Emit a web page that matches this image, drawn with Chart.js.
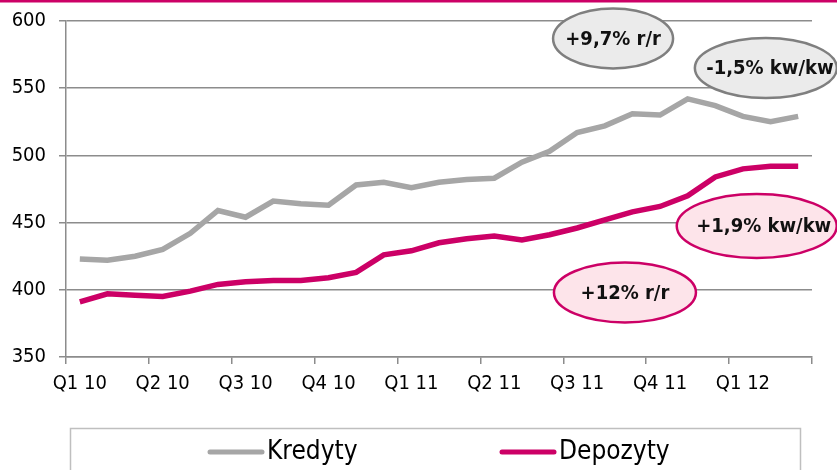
<!DOCTYPE html>
<html>
<head>
<meta charset="utf-8">
<script src="https://cdn.jsdelivr.net/npm/chart.js@4"></script>
<style>
  body { margin: 0; background: #fff; }
  #wrap { width: 837px; height: 470px; }
</style>
</head>
<body>
<div id="wrap"><canvas id="chart" width="837" height="470"></canvas></div>
<script>
// miesiące od stycznia 2010 do marca 2012, podpis co kwartał
const labels = [
  'Q1 10', '', '', 'Q2 10', '', '', 'Q3 10', '', '', 'Q4 10', '', '',
  'Q1 11', '', '', 'Q2 11', '', '', 'Q3 11', '', '', 'Q4 11', '', '',
  'Q1 12', '', ''
];
const kredyty = [
  423, 422, 425, 430, 442, 459, 454, 466, 464, 463, 478, 480,
  476, 480, 482, 483, 495, 503, 517, 522, 531, 530, 542, 537,
  529, 525, 529
];
const depozyty = [
  391, 397, 396, 395, 399, 404, 406, 407, 407, 409, 413, 426,
  429, 435, 438, 440, 437, 441, 446, 452, 458, 462, 470, 484,
  490, 492, 492
];
const yTicks = [350, 400, 450, 500, 550, 600];

// dymki z komentarzem: [indeks miesiąca, wartość, tekst]
const callouts = [
  { at: [19.3, 587], text: '+9,7% r/r', rx: 60, ry: 30, kind: 'gray', dx: 0 },
  { at: [24.83, 565], text: '-1,5% kw/kw', rx: 71, ry: 30, kind: 'gray', dx: 4 },
  { at: [24.5, 447.5], text: '+1,9% kw/kw', rx: 80, ry: 32, kind: 'pink', dx: 7 },
  { at: [19.73, 398], text: '+12% r/r', rx: 71, ry: 30, kind: 'pink', dx: 0 }
];

const GRAY = '#A6A6A6';
const PINK = '#CC0066';
const AXIS = '#8C8C8C';
const FONT = '"DejaVu Sans Condensed", "DejaVu Sans", sans-serif';

const extras = {
  id: 'extras',
  afterDatasetsDraw(chart) {
    const { ctx, scales } = chart;
    ctx.save();
    callouts.forEach(c => {
      const x = scales.x.getPixelForValue(c.at[0]);
      const y = scales.y.getPixelForValue(c.at[1]);
      ctx.beginPath();
      ctx.ellipse(x, y, c.rx, c.ry, 0, 0, Math.PI * 2);
      ctx.fillStyle = c.kind === 'gray' ? '#EBEBEB' : '#FDE4EA';
      ctx.fill();
      ctx.lineWidth = 2.5;
      ctx.strokeStyle = c.kind === 'gray' ? '#7F7F7F' : PINK;
      ctx.stroke();
      ctx.fillStyle = '#111';
      ctx.font = 'bold 20px ' + FONT;
      ctx.textAlign = 'center';
      ctx.textBaseline = 'middle';
      ctx.fillText(c.text, x + c.dx, y + 1);
    });
    ctx.restore();
  },
  afterDraw(chart) {
    const { ctx } = chart;
    ctx.save();
    // górny pasek
    ctx.fillStyle = PINK;
    ctx.fillRect(0, 0, 837, 2.5);
    // ramka legendy
    ctx.strokeStyle = '#BFBFBF';
    ctx.lineWidth = 1.5;
    ctx.beginPath();
    ctx.moveTo(70.5, 480);
    ctx.lineTo(70.5, 428.5);
    ctx.lineTo(800.5, 428.5);
    ctx.lineTo(800.5, 480);
    ctx.stroke();
    // pozycje legendy
    const items = [[208, 0], [500, 1]];
    ctx.font = '26px ' + FONT;
    ctx.textBaseline = 'middle';
    ctx.textAlign = 'left';
    items.forEach(([x, di]) => {
      const ds = chart.data.datasets[di];
      ctx.strokeStyle = ds.borderColor;
      ctx.lineWidth = 5;
      ctx.lineCap = 'round';
      ctx.beginPath();
      ctx.moveTo(x + 2, 452);
      ctx.lineTo(x + 54, 452);
      ctx.stroke();
      ctx.fillStyle = '#000';
      ctx.fillText(ds.label, x + 59, 452);
    });
    ctx.restore();
  }
};

new Chart(document.getElementById('chart'), {
  type: 'line',
  data: {
    labels: labels,
    datasets: [
      { label: 'Kredyty', data: kredyty, borderColor: GRAY, borderWidth: 5.5, pointRadius: 0, tension: 0 },
      { label: 'Depozyty', data: depozyty, borderColor: PINK, borderWidth: 5.5, pointRadius: 0, tension: 0 }
    ]
  },
  options: {
    responsive: false,
    animation: false,
    layout: { padding: { left: 0, right: 25, top: 21, bottom: 73 } },
    plugins: { legend: { display: false }, tooltip: { enabled: false } },
    scales: {
      x: {
        offset: true,
        afterFit: s => { s.height = 40; },
        grid: {
          offset: true,
          drawOnChartArea: false,
          tickLength: 7,
          lineWidth: 1.5,
          color: c => (c.index === undefined || c.index % 3 === 0) ? AXIS : 'rgba(0,0,0,0)'
        },
        border: { display: true, color: AXIS, width: 1.5 },
        ticks: {
          autoSkip: false,
          maxRotation: 0,
          padding: 8,
          color: '#000',
          font: { family: FONT, size: 20 }
        }
      },
      y: {
        min: 350,
        max: 600,
        afterFit: s => { s.width = 66; s.paddingTop = 0; s.paddingBottom = 0; },
        afterBuildTicks: s => { s.ticks = yTicks.map(v => ({ value: v })); },
        grid: { color: AXIS, lineWidth: 1.5, tickLength: 7 },
        border: { display: true, color: AXIS, width: 1.5 },
        ticks: {
          padding: 13,
          color: '#000',
          font: { family: FONT, size: 20 }
        }
      }
    }
  },
  plugins: [extras]
});
</script>
</body>
</html>
